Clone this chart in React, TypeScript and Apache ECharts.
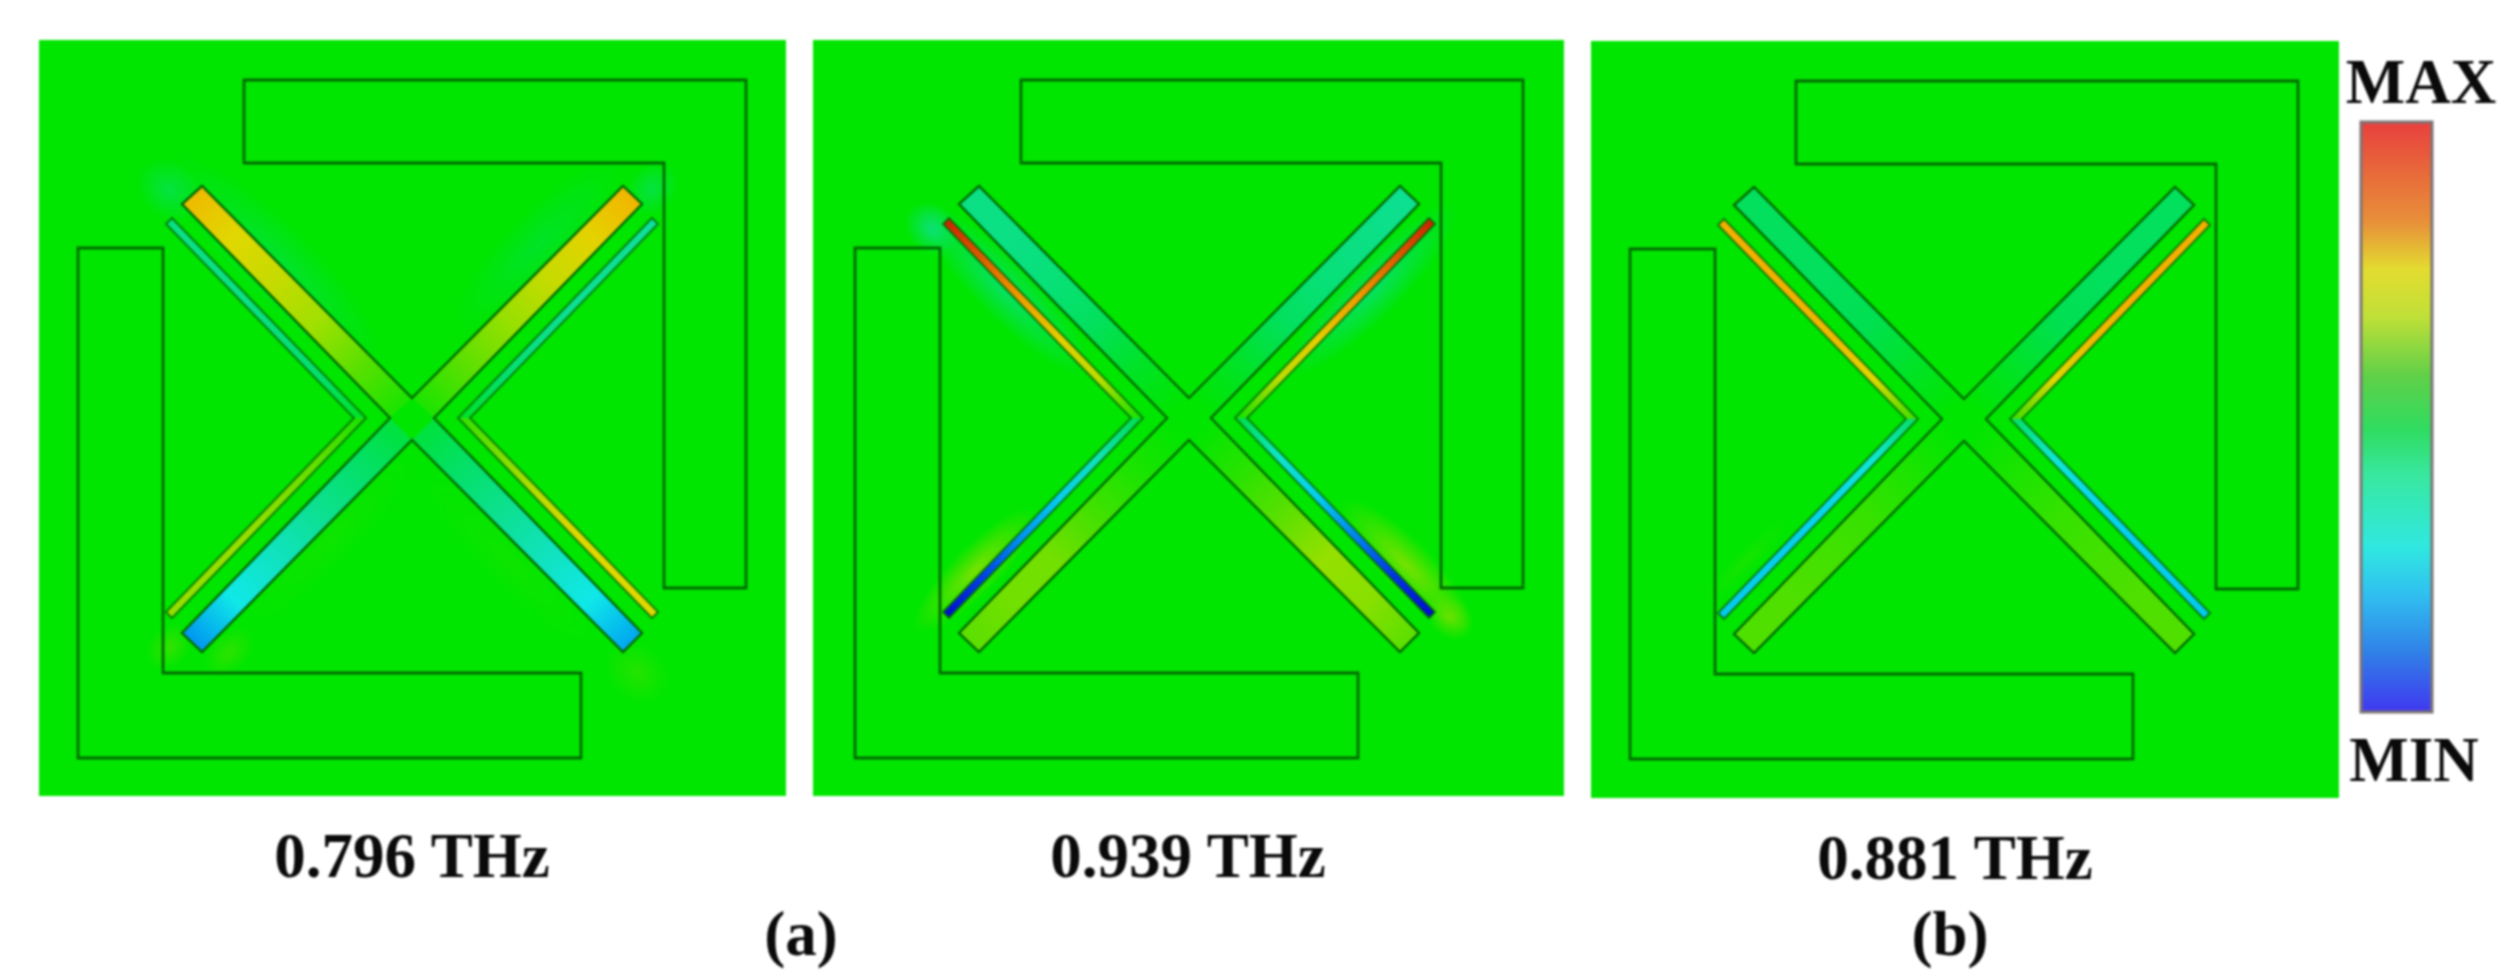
import React, { useEffect, useRef } from "react";
import * as echarts from "echarts";

// --- Labels ---------------------------------------------------------------
const frequencyLabels = ["0.796 THz", "0.939 THz", "0.881 THz"];
const partLabels = ["(a)", "(b)"];
const scaleLabels = ["MAX", "MIN"];

// --- Geometry, in the unit-cell units of each panel ------------------------
const frameTopRight = [[205, 40], [707, 40], [707, 548], [625, 548], [625, 123], [205, 123]];
const frameBottomLeft = [[39, 208], [124, 208], [124, 633], [542, 633], [542, 718], [39, 718]];
const crossOutline = [[373, 358], [584, 146], [603, 164], [395, 378], [603, 593], [584, 612], [373, 400], [163, 612], [143, 593], [351, 378], [143, 164], [163, 146]];
const bracketLeft = [[133, 178], [327, 378], [133, 578], [127, 572], [315, 378], [127, 184]];
const bracketRight = [[613, 178], [419, 378], [613, 578], [619, 572], [431, 378], [619, 184]];
// each strip runs from the centre of the cell to its tip: TL, TR, BR, BL
const armStrips = [
  [[351, 378], [373, 358], [163, 146], [143, 164]],
  [[373, 358], [395, 378], [603, 164], [584, 146]],
  [[395, 378], [373, 400], [584, 612], [603, 593]],
  [[373, 400], [351, 378], [143, 593], [163, 612]],
];
const bracketStrips = [
  [[327, 378], [315, 378], [127, 184], [133, 178]],
  [[419, 378], [431, 378], [619, 184], [613, 178]],
  [[419, 378], [431, 378], [619, 572], [613, 578]],
  [[327, 378], [315, 378], [127, 572], [133, 578]],
];

// --- Field levels (0 = min, 100 = max), centre to tip ----------------------
const armLevelsA = [
  [52, 57, 63, 67, 70, 76],
  [52, 57, 62, 67, 71, 77],
  [47, 44, 41, 37, 33, 22],
  [47, 44, 41, 37, 33, 20],
];
const bracketLevelsA = [
  [48, 44, 43, 42, 42, 42],
  [48, 44, 42, 41, 41, 40],
  [54, 60, 66, 70, 70, 70],
  [52, 57, 60, 62, 62, 62],
];
const armLevelsB = [
  [50, 48, 45, 43, 42, 42],
  [50, 48, 45, 43, 42, 41],
  [50, 53, 57, 62, 61, 57],
  [50, 52, 55, 59, 59, 57],
];
const bracketLevelsB = [
  [52, 66, 72, 80, 88, 98],
  [52, 66, 72, 80, 88, 98],
  [46, 36, 28, 18, 8, 2],
  [46, 38, 28, 20, 10, 2],
];
const armLevelsC = [
  [50, 48, 46, 45, 45, 45],
  [50, 48, 46, 45, 45, 45],
  [50, 52, 54, 55, 56, 56],
  [50, 52, 54, 55, 56, 56],
];
const bracketLevelsC = [
  [55, 70, 76, 78, 78, 78],
  [55, 70, 76, 78, 78, 78],
  [44, 35, 30, 28, 28, 27],
  [44, 35, 30, 28, 28, 27],
];

// --- Soft field spill around strips: x, y, long radius, short radius, angle, level, opacity
const halosA = [
  [235, 222, 150, 40, 45, 45, 0.55],
  [130, 150, 36, 28, 45, 43, 0.55],
  [500, 205, 115, 34, -45, 46, 0.5],
  [613, 149, 30, 24, -45, 43, 0.55],
  [190, 612, 30, 20, -45, 57, 0.5],
  [130, 607, 26, 20, -45, 58, 0.5],
  [598, 632, 36, 28, 45, 56, 0.45],
  [290, 500, 120, 26, -45, 53, 0.35],
  [470, 520, 120, 26, 45, 53, 0.35],
];
const halosB = [
  [190, 250, 120, 30, 45, 43, 0.85],
  [116, 189, 30, 24, 45, 41, 0.8],
  [555, 250, 120, 30, -45, 43, 0.85],
  [160, 530, 85, 24, -45, 62, 0.8],
  [590, 525, 90, 26, 45, 62, 0.8],
  [634, 577, 26, 20, 45, 60, 0.8],
];
const halosC = [
  [155, 520, 60, 12, -45, 54, 0.4],
];

// --- Colour scales ---------------------------------------------------------
const fieldLevels = [0, 12, 25, 33, 40, 46, 50, 56, 63, 70, 78, 88, 100];
const fieldColors = ["#0000c8", "#0050f0", "#00c0f0", "#10e8e8", "#10e0a0", "#00e050", "#00e600", "#50e000", "#a0e000", "#e0d800", "#f4b000", "#e06000", "#c81800"];
const barPositions = [0, 0.1, 0.17, 0.25, 0.33, 0.43, 0.52, 0.6, 0.72, 0.8, 0.9, 1];
const barColors = ["#e8403e", "#e8703a", "#e8903a", "#e3dc30", "#c0e038", "#60d048", "#30dc60", "#38e8a0", "#30e8e0", "#30c0f0", "#3080e8", "#4038f0"];

const LINE = "#006a00";
const FONT = "'Liberation Serif', 'Times New Roman', serif";

function hex(c: string) {
  return [1, 3, 5].map((i) => parseInt(c.slice(i, i + 2), 16));
}
function fieldColor(level: number, alpha = 1) {
  let i = 0;
  while (i < fieldLevels.length - 2 && level > fieldLevels[i + 1]) i++;
  const t = (level - fieldLevels[i]) / (fieldLevels[i + 1] - fieldLevels[i]);
  const a = hex(fieldColors[i]);
  const b = hex(fieldColors[i + 1]);
  const m = a.map((v, k) => Math.round(v + (b[k] - v) * t));
  return `rgba(${m[0]},${m[1]},${m[2]},${alpha})`;
}

function stripSeries(panel: number, strips: number[][][], levels: number[][], z: number) {
  return {
    type: "custom",
    coordinateSystem: "cartesian2d",
    xAxisIndex: panel,
    yAxisIndex: panel,
    silent: true,
    clip: false,
    z,
    data: strips.map((_, i) => [i]),
    encode: { x: 0, y: 0 },
    renderItem(params: any, api: any) {
      const poly = strips[params.dataIndex].map((p) => api.coord(p));
      const vals = levels[params.dataIndex];
      const s = [(poly[0][0] + poly[1][0]) / 2, (poly[0][1] + poly[1][1]) / 2];
      const e = [(poly[2][0] + poly[3][0]) / 2, (poly[2][1] + poly[3][1]) / 2];
      const fill = new echarts.graphic.LinearGradient(
        s[0], s[1], e[0], e[1],
        vals.map((v, k) => ({ offset: k / (vals.length - 1), color: fieldColor(v) })),
        true
      );
      return { type: "polygon", shape: { points: poly }, style: { fill, stroke: "none" } };
    },
  };
}

function haloSeries(panel: number, halos: number[][]) {
  return {
    type: "custom",
    coordinateSystem: "cartesian2d",
    xAxisIndex: panel,
    yAxisIndex: panel,
    silent: true,
    clip: false,
    z: 2,
    data: halos.map((_, i) => [i]),
    encode: { x: 0, y: 0 },
    renderItem(params: any, api: any) {
      const [x, y, rLong, rShort, angle, level, alpha] = halos[params.dataIndex];
      const c = api.coord([x, y]);
      const o = api.coord([0, 0]);
      const unit = api.coord([1, 0])[0] - o[0];
      return {
        type: "ellipse",
        x: c[0],
        y: c[1],
        rotation: (-angle * Math.PI) / 180,
        shape: { cx: 0, cy: 0, rx: rLong * unit, ry: rShort * unit },
        style: {
          stroke: "none",
          fill: new echarts.graphic.RadialGradient(0.5, 0.5, 0.5, [
            { offset: 0, color: fieldColor(level, alpha) },
            { offset: 0.5, color: fieldColor(level, alpha * 0.5) },
            { offset: 1, color: fieldColor(level, 0) },
          ]),
        },
      };
    },
  };
}

function outlineSeries(panel: number) {
  const shapes = [frameTopRight, frameBottomLeft, crossOutline, bracketLeft, bracketRight];
  return {
    type: "custom",
    coordinateSystem: "cartesian2d",
    xAxisIndex: panel,
    yAxisIndex: panel,
    silent: true,
    clip: false,
    z: 4,
    data: shapes.map((_, i) => [i]),
    encode: { x: 0, y: 0 },
    renderItem(params: any, api: any) {
      const i = params.dataIndex;
      return {
        type: "polygon",
        shape: { points: shapes[i].map((p) => api.coord(p)) },
        style: { fill: "none", stroke: LINE, lineWidth: i < 2 ? 2.8 : i === 2 ? 2.4 : 2, opacity: i < 3 ? 1 : 0.8 },
      };
    },
  };
}

function colorBarSeries(panel: number) {
  return {
    type: "custom",
    coordinateSystem: "cartesian2d",
    xAxisIndex: panel,
    yAxisIndex: panel,
    silent: true,
    clip: false,
    z: 2,
    data: [[0, 0]],
    encode: { x: 0, y: 1 },
    renderItem(_: any, api: any) {
      const a = api.coord([0, 0]);
      const b = api.coord([1, 1]);
      return {
        type: "rect",
        shape: { x: a[0], y: a[1], width: b[0] - a[0], height: b[1] - a[1] },
        style: {
          stroke: "#7c7474",
          lineWidth: 3,
          fill: new echarts.graphic.LinearGradient(
            0, 0, 0, 1,
            barPositions.map((p, k) => ({ offset: p, color: barColors[k] }))
          ),
        },
      };
    },
  };
}

function label(text: string, left: number, top: number) {
  return {
    text,
    left,
    top,
    textAlign: "center",
    padding: 0,
    textStyle: { fontFamily: FONT, fontWeight: "bold", fontSize: 63, color: "#0a0a0a", lineHeight: 63 },
  };
}

export default function App() {
  const ref = useRef<HTMLDivElement>(null);
  useEffect(() => {
    document.body.style.margin = "0";
    document.body.style.background = "#fff";
    const chart = echarts.init(ref.current!, undefined, { renderer: "svg" });
    const panels = [
      { left: 39, top: 40, width: 747, height: 756, xMin: 0, xMax: 747, yMin: 0, yMax: 756 },
      { left: 813, top: 40, width: 751, height: 756, xMin: -3, xMax: 748, yMin: 0, yMax: 756 },
      { left: 1591, top: 41, width: 748, height: 757, xMin: 0, xMax: 748, yMin: 0, yMax: 757 },
    ];
    const grid: any[] = panels.map((p) => ({
      left: p.left, top: p.top, width: p.width, height: p.height,
      show: true, backgroundColor: "#00e600", borderWidth: 0,
    }));
    grid.push({ left: 2361, top: 122, width: 71, height: 590, show: false });
    const xAxis: any[] = panels.map((p, i) => ({ type: "value", gridIndex: i, min: p.xMin, max: p.xMax, show: false }));
    const yAxis: any[] = panels.map((p, i) => ({ type: "value", gridIndex: i, min: p.yMin, max: p.yMax, inverse: true, show: false }));
    xAxis.push({ type: "value", gridIndex: 3, min: 0, max: 1, show: false });
    yAxis.push({ type: "value", gridIndex: 3, min: 0, max: 1, inverse: true, show: false });

    chart.setOption({
      animation: false,
      backgroundColor: "#fff",
      tooltip: { show: false },
      grid,
      xAxis,
      yAxis,
      title: [
        label(frequencyLabels[0], 412, 824),
        label(frequencyLabels[1], 1188, 824),
        label(frequencyLabels[2], 1955, 826),
        label(partLabels[0], 801, 902),
        label(partLabels[1], 1950, 902),
        label(scaleLabels[0], 2421, 50),
        label(scaleLabels[1], 2414, 728),
      ],
      series: [
        haloSeries(0, halosA),
        stripSeries(0, armStrips, armLevelsA, 3),
        stripSeries(0, bracketStrips, bracketLevelsA, 3),
        outlineSeries(0),
        haloSeries(1, halosB),
        stripSeries(1, armStrips, armLevelsB, 3),
        stripSeries(1, bracketStrips, bracketLevelsB, 3),
        outlineSeries(1),
        haloSeries(2, halosC),
        stripSeries(2, armStrips, armLevelsC, 3),
        stripSeries(2, bracketStrips, bracketLevelsC, 3),
        outlineSeries(2),
        colorBarSeries(3),
      ],
    });
    return () => chart.dispose();
  }, []);
  return <div ref={ref} style={{ width: 2511, height: 980, filter: "blur(0.8px)" }} />;
}
